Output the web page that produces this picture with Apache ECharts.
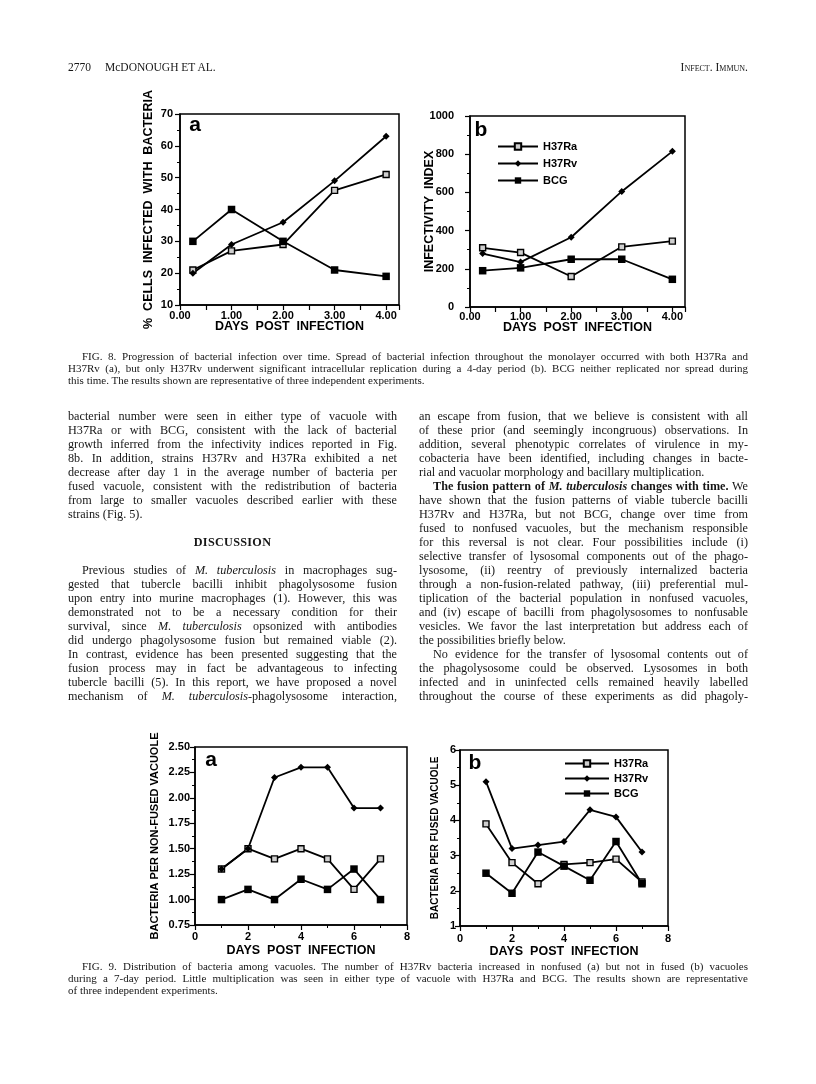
<!DOCTYPE html>
<html>
<head>
<meta charset="utf-8">
<title>Fig. 8 and Fig. 9</title>
<script src="https://cdn.jsdelivr.net/npm/echarts@6.0.0/dist/echarts.min.js"></script>
<style>
  html, body { margin: 0; padding: 0; background: #fff; }
  #page { position: relative; width: 816px; height: 1084px; overflow: hidden; background: #fff; }
  #chart { position: absolute; left: 0; top: 0; width: 816px; height: 1084px; }
  .txt { position: absolute; font-family: "Liberation Serif", "DejaVu Serif", serif; color: #161616; }
  .hdr { font-size: 11.5px; line-height: 14px; white-space: nowrap; }
  .sc { font-variant: small-caps; }
  .col { font-size: 12.2px; }
  .col div { white-space: nowrap; height: 14px; line-height: 14px; }
  .cap { font-size: 11px; }
  .cap div { white-space: nowrap; height: 12px; line-height: 12px; }
  .ind { padding-left: 14px; }
  .head { text-align: center; font-weight: bold; letter-spacing: 0.3px; }
</style>
</head>
<body>
<div id="page">
  <div id="chart"></div>

  <div class="txt hdr" style="left:68px;top:60px;">2770</div>
  <div class="txt hdr" style="left:105px;top:60px;">McDONOUGH ET AL.</div>
  <div class="txt hdr sc" style="right:68px;top:60px;">Infect. Immun.</div>

  <div class="txt cap" style="left:68px;top:350px;width:680px;">
    <div class="j ind">FIG. 8. Progression of bacterial infection over time. Spread of bacterial infection throughout the monolayer occurred with both H37Ra and</div>
    <div class="j">H37Rv (a), but only H37Rv underwent significant intracellular replication during a 4-day period (b). BCG neither replicated nor spread during</div>
    <div>this time. The results shown are representative of three independent experiments.</div>
  </div>

  <div class="txt col" style="left:68px;top:409px;width:329px;">
    <div class="j">bacterial number were seen in either type of vacuole with</div>
    <div class="j">H37Ra or with BCG, consistent with the lack of bacterial</div>
    <div class="j">growth inferred from the infectivity indices reported in Fig.</div>
    <div class="j">8b. In addition, strains H37Rv and H37Ra exhibited a net</div>
    <div class="j">decrease after day 1 in the average number of bacteria per</div>
    <div class="j">fused vacuole, consistent with the redistribution of bacteria</div>
    <div class="j">from large to smaller vacuoles described earlier with these</div>
    <div>strains (Fig. 5).</div>
    <div></div>
    <div class="head">DISCUSSION</div>
    <div></div>
    <div class="j ind">Previous studies of <i>M. tuberculosis</i> in macrophages sug-</div>
    <div class="j">gested that tubercle bacilli inhibit phagolysosome fusion</div>
    <div class="j">upon entry into murine macrophages (1). However, this was</div>
    <div class="j">demonstrated not to be a necessary condition for their</div>
    <div class="j">survival, since <i>M. tuberculosis</i> opsonized with antibodies</div>
    <div class="j">did undergo phagolysosome fusion but remained viable (2).</div>
    <div class="j">In contrast, evidence has been presented suggesting that the</div>
    <div class="j">fusion process may in fact be advantageous to infecting</div>
    <div class="j">tubercle bacilli (5). In this report, we have proposed a novel</div>
    <div class="j">mechanism of <i>M. tuberculosis</i>-phagolysosome interaction,</div>
  </div>

  <div class="txt col" style="left:419px;top:409px;width:329px;">
    <div class="j">an escape from fusion, that we believe is consistent with all</div>
    <div class="j">of these prior (and seemingly incongruous) observations. In</div>
    <div class="j">addition, several phenotypic correlates of virulence in my-</div>
    <div class="j">cobacteria have been identified, including changes in bacte-</div>
    <div>rial and vacuolar morphology and bacillary multiplication.</div>
    <div class="j ind"><b>The fusion pattern of <i>M. tuberculosis</i> changes with time.</b> We</div>
    <div class="j">have shown that the fusion patterns of viable tubercle bacilli</div>
    <div class="j">H37Rv and H37Ra, but not BCG, change over time from</div>
    <div class="j">fused to nonfused vacuoles, but the mechanism responsible</div>
    <div class="j">for this reversal is not clear. Four possibilities include (i)</div>
    <div class="j">selective transfer of lysosomal components out of the phago-</div>
    <div class="j">lysosome, (ii) reentry of previously internalized bacteria</div>
    <div class="j">through a non-fusion-related pathway, (iii) preferential mul-</div>
    <div class="j">tiplication of the bacterial population in nonfused vacuoles,</div>
    <div class="j">and (iv) escape of bacilli from phagolysosomes to nonfusable</div>
    <div class="j">vesicles. We favor the last interpretation but address each of</div>
    <div>the possibilities briefly below.</div>
    <div class="j ind">No evidence for the transfer of lysosomal contents out of</div>
    <div class="j">the phagolysosome could be observed. Lysosomes in both</div>
    <div class="j">infected and in uninfected cells remained heavily labelled</div>
    <div class="j">throughout the course of these experiments as did phagoly-</div>
  </div>

  <div class="txt cap" style="left:68px;top:960px;width:680px;">
    <div class="j ind">FIG. 9. Distribution of bacteria among vacuoles. The number of H37Rv bacteria increased in nonfused (a) but not in fused (b) vacuoles</div>
    <div class="j">during a 7-day period. Little multiplication was seen in either type of vacuole with H37Ra and BCG. The results shown are representative</div>
    <div>of three independent experiments.</div>
  </div>
</div>

<script>
// ---- data ----
var daysFig8 = [0.25, 1, 2, 3, 4];
var daysFig9 = [1, 2, 3, 4, 5, 6, 7];

// Fig. 8a  % cells infected with bacteria
var infectedH37Ra = [21, 27, 29, 46, 51];
var infectedH37Rv = [20, 29, 36, 49, 63];
var infectedBCG = [30, 40, 30, 21, 19];

// Fig. 8b  infectivity index
var indexH37Ra = [310, 285, 160, 315, 345];
var indexH37Rv = [280, 235, 365, 605, 815];
var indexBCG = [190, 205, 250, 250, 145];

// Fig. 9a  bacteria per non-fused vacuole
var nonFusedH37Ra = [1.3, 1.5, 1.4, 1.5, 1.4, 1.1, 1.4];
var nonFusedH37Rv = [1.3, 1.5, 2.2, 2.3, 2.3, 1.9, 1.9];
var nonFusedBCG = [1.0, 1.1, 1.0, 1.2, 1.1, 1.3, 1.0];

// Fig. 9b  bacteria per fused vacuole
var fusedH37Ra = [3.9, 2.8, 2.2, 2.75, 2.8, 2.9, 2.25];
var fusedH37Rv = [5.1, 3.2, 3.3, 3.4, 4.3, 4.1, 3.1];
var fusedBCG = [2.5, 1.93, 3.1, 2.7, 2.3, 3.4, 2.2];

var strainNames = ['H37Ra', 'H37Rv', 'BCG'];

// ---- text justification for the page text ----
function justifyLines() {
    var els = document.querySelectorAll('.j');
    for (var i = 0; i < els.length; i++) {
        var el = els[i];
        var span = document.createElement('span');
        while (el.firstChild) span.appendChild(el.firstChild);
        el.appendChild(span);
        var cs = getComputedStyle(el);
        var target = el.clientWidth - parseFloat(cs.paddingLeft) - parseFloat(cs.paddingRight);
        var natural = span.getBoundingClientRect().width;
        var gaps = (el.textContent.match(/ /g) || []).length;
        if (gaps > 0) el.style.wordSpacing = ((target - natural) / gaps) + 'px';
    }
}
justifyLines();

// ---- charts ----
var SANS = '"Liberation Sans", Arial, Helvetica, sans-serif';

function pairs(xs, ys) {
    return xs.map(function (x, i) { return [x, ys[i]]; });
}

var STYLE = {
    H37Ra: {symbol: 'rect', symbolSize: 6, itemStyle: {color: '#cfcfcf', borderColor: '#000', borderWidth: 1.4}},
    H37Rv: {symbol: 'diamond', symbolSize: 7, itemStyle: {color: '#000'}},
    BCG: {symbol: 'rect', symbolSize: 7.5, itemStyle: {color: '#000'}}
};

function line(name, gi, xs, ys) {
    var s = STYLE[name];
    return {
        name: name, type: 'line', xAxisIndex: gi, yAxisIndex: gi,
        data: pairs(xs, ys),
        symbol: s.symbol, symbolSize: s.symbolSize, showSymbol: true,
        lineStyle: {color: '#000', width: 1.8},
        itemStyle: s.itemStyle,
        emphasis: {disabled: true},
        silent: true
    };
}

function axis(gi, o) {
    return {
        type: 'value', gridIndex: gi,
        min: o.min, max: o.max, interval: o.interval,
        name: o.name, nameLocation: 'middle', nameGap: o.nameGap,
        nameMoveOverlap: false,
        nameTextStyle: {color: '#000', fontFamily: SANS, fontWeight: 'bold', fontSize: o.nameSize || 12.5},
        axisLine: {show: true, onZero: false, lineStyle: {color: '#000', width: 1.5}},
        axisTick: {show: true, inside: false, length: 5, lineStyle: {color: '#000', width: 1.2}},
        minorTick: {show: o.minor !== false, splitNumber: 2, length: 3, lineStyle: {color: '#000', width: 1}},
        splitLine: {show: false},
        minorSplitLine: {show: false},
        axisLabel: {color: '#000', fontFamily: SANS, fontWeight: 'bold', fontSize: 11,
                    margin: o.margin, formatter: o.formatter || function (v) { return String(v); }}
    };
}

function fig8x(v) { return v % 1 === 0 ? v.toFixed(2) : ''; }

var legendText = {color: '#000', fontFamily: SANS, fontWeight: 'bold', fontSize: 11};

var option = {
    animation: false,
    backgroundColor: '#fff',
    grid: [
        {left: 180, top: 114, width: 219, height: 191, show: true, borderColor: '#000', borderWidth: 1.5},
        {left: 470, top: 116, width: 215, height: 191, show: true, borderColor: '#000', borderWidth: 1.5},
        {left: 195, top: 747, width: 212, height: 178, show: true, borderColor: '#000', borderWidth: 1.5},
        {left: 460, top: 750, width: 208, height: 176, show: true, borderColor: '#000', borderWidth: 1.5}
    ],
    xAxis: [
        axis(0, {min: 0, max: 4.25, interval: 0.5, minor: false, name: 'DAYS  POST  INFECTION', nameGap: 15, margin: 5, formatter: fig8x}),
        axis(1, {min: 0, max: 4.25, interval: 0.5, minor: false, name: 'DAYS  POST  INFECTION', nameGap: 14, margin: 4, formatter: fig8x}),
        axis(2, {min: 0, max: 8, interval: 2, name: 'DAYS  POST  INFECTION', nameGap: 19, margin: 6}),
        axis(3, {min: 0, max: 8, interval: 2, name: 'DAYS  POST  INFECTION', nameGap: 19, margin: 7})
    ],
    yAxis: [
        axis(0, {min: 10, max: 70, interval: 10, name: '%  CELLS  INFECTED  WITH  BACTERIA', nameGap: 25, margin: 7}),
        axis(1, {min: 0, max: 1000, interval: 200, name: 'INFECTIVITY  INDEX', nameGap: 34, margin: 16}),
        axis(2, {min: 0.75, max: 2.5, interval: 0.25, name: 'BACTERIA PER NON-FUSED VACUOLE', nameGap: 35, margin: 5,
                 nameSize: 11, formatter: function (v) { return v.toFixed(2); }}),
        axis(3, {min: 1, max: 6, interval: 1, name: 'BACTERIA PER FUSED VACUOLE', nameGap: 20, margin: 4, nameSize: 10})
    ],
    legend: [
        {data: strainNames, orient: 'vertical', left: 497, top: 141, padding: 0,
         itemWidth: 40, itemHeight: 8, itemGap: 6, textStyle: legendText, selectedMode: false},
        {data: strainNames, orient: 'vertical', left: 564, top: 758, padding: 0,
         itemWidth: 44, itemHeight: 8, itemGap: 4, textStyle: legendText, selectedMode: false}
    ],
    graphic: [
        {type: 'text', x: 195, y: 125, style: {text: 'a', font: 'bold 21px ' + SANS, fill: '#000', align: 'center', verticalAlign: 'middle'}},
        {type: 'text', x: 481, y: 130, style: {text: 'b', font: 'bold 21px ' + SANS, fill: '#000', align: 'center', verticalAlign: 'middle'}},
        {type: 'text', x: 211, y: 760, style: {text: 'a', font: 'bold 21px ' + SANS, fill: '#000', align: 'center', verticalAlign: 'middle'}},
        {type: 'text', x: 475, y: 763, style: {text: 'b', font: 'bold 21px ' + SANS, fill: '#000', align: 'center', verticalAlign: 'middle'}}
    ],
    series: [
        line('H37Ra', 0, daysFig8, infectedH37Ra),
        line('H37Rv', 0, daysFig8, infectedH37Rv),
        line('BCG', 0, daysFig8, infectedBCG),
        line('H37Ra', 1, daysFig8, indexH37Ra),
        line('H37Rv', 1, daysFig8, indexH37Rv),
        line('BCG', 1, daysFig8, indexBCG),
        line('H37Ra', 2, daysFig9, nonFusedH37Ra),
        line('H37Rv', 2, daysFig9, nonFusedH37Rv),
        line('BCG', 2, daysFig9, nonFusedBCG),
        line('H37Ra', 3, daysFig9, fusedH37Ra),
        line('H37Rv', 3, daysFig9, fusedH37Rv),
        line('BCG', 3, daysFig9, fusedBCG)
    ]
};

var myChart = echarts.init(document.getElementById('chart'));
myChart.setOption(option);
</script>
</body>
</html>
